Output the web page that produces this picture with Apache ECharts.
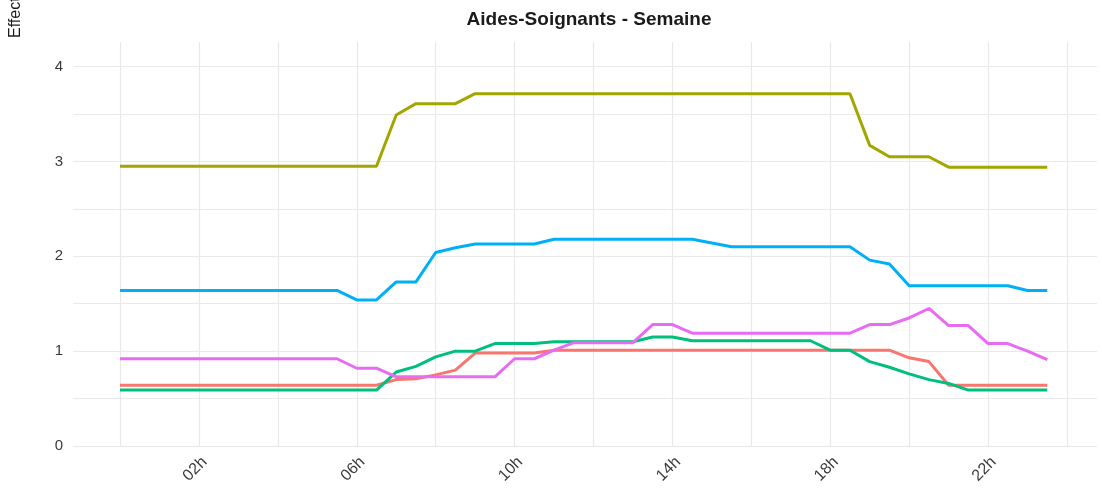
<!DOCTYPE html>
<html>
<head>
<meta charset="utf-8">
<script src="https://cdn.jsdelivr.net/npm/echarts@6/dist/echarts.min.js"></script>
<style>
  html, body { margin: 0; padding: 0; background: #fff; }
  #chart { width: 1102px; height: 490px; }
</style>
</head>
<body>
<div id="chart"></div>
<script>
// heures (pas de 30 min)
const heures = [];
for (let i = 0; i < 48; i++) heures.push(i / 2);

// valeurs, une par demi-heure
const serieRouge = [
  0.64, 0.64, 0.64, 0.64, 0.64, 0.64, 0.64, 0.64, 0.64, 0.64, 0.64, 0.64, 0.64, 0.64,
  0.70, 0.71, 0.75, 0.80, 0.98, 0.98, 0.98, 0.98,
  1.01, 1.01, 1.01, 1.01, 1.01, 1.01, 1.01, 1.01, 1.01, 1.01, 1.01, 1.01, 1.01, 1.01, 1.01, 1.01, 1.01, 1.01,
  0.93, 0.89, 0.64, 0.64, 0.64, 0.64, 0.64, 0.64
];
const serieOlive = [
  2.95, 2.95, 2.95, 2.95, 2.95, 2.95, 2.95, 2.95, 2.95, 2.95, 2.95, 2.95, 2.95, 2.95,
  3.49, 3.61, 3.61, 3.61,
  3.715, 3.715, 3.715, 3.715, 3.715, 3.715, 3.715, 3.715, 3.715, 3.715,
  3.715, 3.715, 3.715, 3.715, 3.715, 3.715, 3.715, 3.715, 3.715, 3.715,
  3.17, 3.05, 3.05, 3.05, 2.94, 2.94, 2.94, 2.94, 2.94, 2.94
];
const serieVerte = [
  0.59, 0.59, 0.59, 0.59, 0.59, 0.59, 0.59, 0.59, 0.59, 0.59, 0.59, 0.59, 0.59, 0.59,
  0.78, 0.84, 0.94, 1.00, 1.00, 1.08, 1.08, 1.08,
  1.10, 1.10, 1.10, 1.10, 1.10, 1.15, 1.15,
  1.11, 1.11, 1.11, 1.11, 1.11, 1.11, 1.11, 1.01, 1.01,
  0.89, 0.83, 0.76, 0.70, 0.66, 0.59, 0.59, 0.59, 0.59, 0.59
];
const serieBleue = [
  1.64, 1.64, 1.64, 1.64, 1.64, 1.64, 1.64, 1.64, 1.64, 1.64, 1.64, 1.64,
  1.54, 1.54, 1.73, 1.73, 2.04, 2.09, 2.13, 2.13, 2.13, 2.13,
  2.18, 2.18, 2.18, 2.18, 2.18, 2.18, 2.18, 2.18,
  2.14, 2.10, 2.10, 2.10, 2.10, 2.10, 2.10, 2.10,
  1.96, 1.92, 1.69, 1.69, 1.69, 1.69, 1.69, 1.69, 1.64, 1.64
];
const serieRose = [
  0.92, 0.92, 0.92, 0.92, 0.92, 0.92, 0.92, 0.92, 0.92, 0.92, 0.92, 0.92,
  0.82, 0.82, 0.73, 0.73, 0.73, 0.73, 0.73, 0.73,
  0.92, 0.92, 1.01, 1.09, 1.09, 1.09, 1.09, 1.28, 1.28,
  1.19, 1.19, 1.19, 1.19, 1.19, 1.19, 1.19, 1.19, 1.19,
  1.28, 1.28, 1.35, 1.45, 1.27, 1.27, 1.08, 1.08, 1.00, 0.91
];

const nomsSeries = ['Groupe 1', 'Groupe 2', 'Groupe 3', 'Groupe 4', 'Groupe 5'];
const couleurs = ['#F8766D', '#A3A500', '#00BF7D', '#00B0F6', '#E76BF3'];
const valeurs = [serieRouge, serieOlive, serieVerte, serieBleue, serieRose];

const yMax = 4.26;
const gris = '#e9e9e9';
const police = '"Liberation Sans", Arial, sans-serif';

const chart = echarts.init(document.getElementById('chart'));

const option = {
  backgroundColor: '#ffffff',
  animation: false,
  title: {
    text: 'Aides-Soignants - Semaine',
    left: 584,
    textAlign: 'center',
    top: 5,
    textStyle: { fontFamily: police, fontSize: 19, fontWeight: 'bold', color: '#1a1a1a' }
  },
  graphic: [{
    type: 'text',
    x: 24,
    y: 38,
    rotation: Math.PI / 2,
    style: {
      text: 'Effectif',
      textAlign: 'left',
      textVerticalAlign: 'bottom',
      font: '16px ' + police,
      fill: '#1a1a1a'
    }
  }],
  grid: [
    { left: 120, right: 35, top: 42, bottom: 44 },
    { left: 73, right: 5, top: 42, bottom: 44 }
  ],
  xAxis: [{
    gridIndex: 0,
    type: 'value',
    min: 0,
    max: 24,
    interval: 2,
    axisLine: { show: false },
    axisTick: { show: false },
    axisLabel: {
      rotate: 45,
      margin: 8,
      verticalAlign: 'top',
      fontFamily: police,
      fontSize: 16,
      color: '#3a3a3a',
      formatter: v => (v % 4 === 2 ? String(v).padStart(2, '0') + 'h' : '')
    },
    splitLine: { show: true, lineStyle: { color: gris, width: 1.2 } }
  }, {
    gridIndex: 1,
    type: 'value',
    min: 0,
    max: 1,
    show: false
  }],
  yAxis: [{
    gridIndex: 0,
    type: 'value',
    min: 0,
    max: yMax,
    show: false
  }, {
    gridIndex: 1,
    type: 'value',
    min: 0,
    max: yMax,
    interval: 0.5,
    axisLine: { show: false },
    axisTick: { show: false },
    axisLabel: {
      margin: 10,
      fontFamily: police,
      fontSize: 15,
      color: '#3a3a3a',
      formatter: v => (Number.isInteger(v) ? String(v) : '')
    },
    splitLine: { show: true, showMaxLine: false, lineStyle: { color: gris, width: 1.2 } }
  }],
  series: valeurs.map((d, k) => ({
    name: nomsSeries[k],
    type: 'line',
    xAxisIndex: 0,
    yAxisIndex: 0,
    data: heures.map((h, i) => [h, d[i]]),
    showSymbol: false,
    lineStyle: { color: couleurs[k], width: 3 },
    itemStyle: { color: couleurs[k] }
  }))
};

chart.setOption(option);
</script>
</body>
</html>
